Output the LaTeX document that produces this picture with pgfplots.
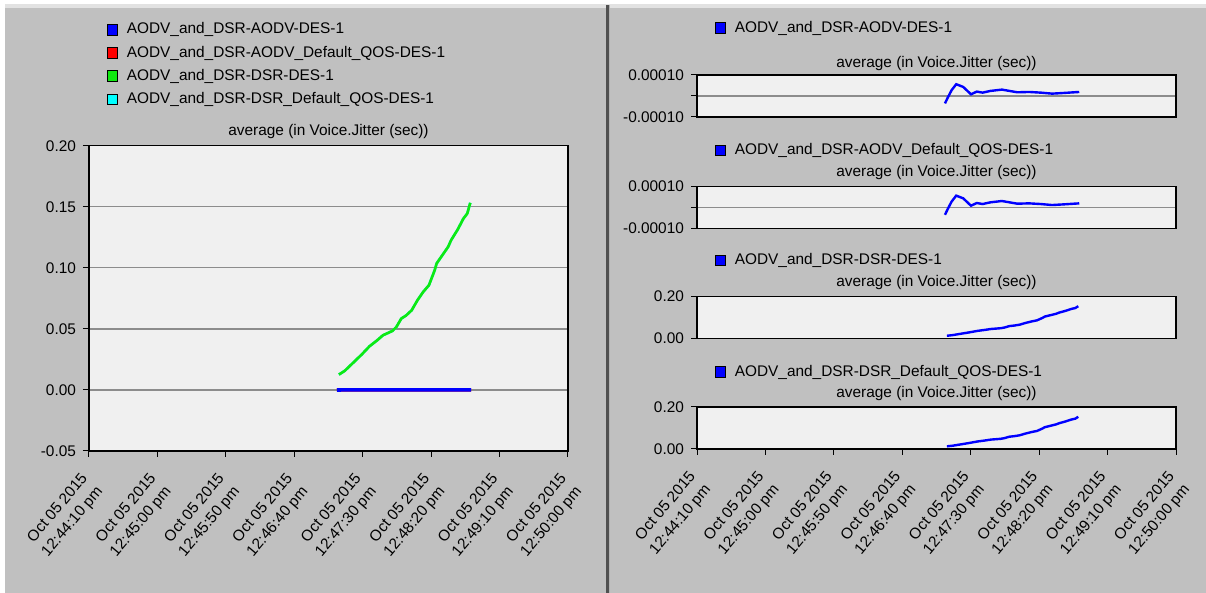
\documentclass[border=0pt]{standalone}
\usepackage{fontspec}
\setmainfont{Liberation Sans}
\usepackage{pgfplots}
\usepackage{pgfplotstable}
\pgfplotsset{compat=1.18}
\definecolor{panelgray}{HTML}{C0C0C0}
\definecolor{plotbg}{HTML}{F0F0F0}
\definecolor{stripgray}{HTML}{E2E2E2}
\definecolor{divgray}{HTML}{505050}
\definecolor{gridgray}{HTML}{8C8C8C}
\definecolor{oblue}{HTML}{0000FF}
\definecolor{ored}{HTML}{FF0000}
\definecolor{ogreen}{HTML}{10E810}
\definecolor{ocyan}{HTML}{00FFFF}

\pgfplotstableread{
t v
181.2 -0.0000352
183.2 -0.0000080
186.0 0.0000272
189.4 0.0000560
194.5 0.0000432
200.2 0.0000080
204.4 0.0000208
208.7 0.0000160
214.3 0.0000240
222.8 0.0000304
228.4 0.0000240
234.1 0.0000176
242.6 0.0000192
251.1 0.0000160
259.5 0.0000112
268.0 0.0000144
279.3 0.0000192
}\aodv

\pgfplotstableread{
t v
182.6 0.0126
186.8 0.0156
192.4 0.0216
199.4 0.0292
205.0 0.0358
210.6 0.0407
214.8 0.0448
221.8 0.0484
224.6 0.0516
228.2 0.0585
231.6 0.0609
235.8 0.0653
240.0 0.0735
244.2 0.0803
248.4 0.0858
252.6 0.0981
254.0 0.1036
258.2 0.1104
262.4 0.1172
264.6 0.1227
269.4 0.1314
273.6 0.1404
276.4 0.1445
278.6 0.1533
}\dsr

\newcommand\sq[1]{\filldraw[fill=#1,draw=black,line width=0.5pt] (0pt,-2.7pt) rectangle (5pt,2.7pt);}
\newcommand\fnt{\fontsize{7.7}{10}\selectfont}

\pgfplotsset{
  opnet/.style={
    scale only axis, width=239.5pt,
    axis background/.style={fill=plotbg},
    axis line style={black, line width=0.7pt},
    tick style={black, line width=0.5pt},
    tick align=outside, major tick length=3pt,
    xtick pos=bottom, ytick pos=left,
    xmin=0, xmax=350,
    scaled y ticks=false,
    ticklabel style={font=\fnt},
    every axis title shift=0pt,
    title style={font=\fnt, at={(0.5,1)}, anchor=center},
    legend style={font=\fnt, draw=none, fill=none, inner sep=0pt,
      nodes={inner sep=0pt}, /tikz/column sep=4.5pt, cells={anchor=west}},
    grid style={gridgray, line width=0.6pt},
    ymajorgrids,
    title={average (in Voice.Jitter (sec))},
  },
  timeticks/.style={
    xtick={0,50,...,350},
    xticklabels={{Oct 05 2015\\12:44:10 pm},{Oct 05 2015\\12:45:00 pm},{Oct 05 2015\\12:45:50 pm},{Oct 05 2015\\12:46:40 pm},{Oct 05 2015\\12:47:30 pm},{Oct 05 2015\\12:48:20 pm},{Oct 05 2015\\12:49:10 pm},{Oct 05 2015\\12:50:00 pm}},
    xticklabel style={rotate=50, anchor=north east, align=right, inner sep=1pt, xshift=-7.5pt},
  },
  smallaodv/.style={
    opnet, height=21pt, xtick=\empty,
    ymin=-0.0001, ymax=0.0001, ytick={-0.0001,0,0.0001},
    yticklabels={-0.00010,,0.00010},
  },
  smalldsr/.style={
    opnet, height=21pt,
    ymin=0, ymax=0.2, ytick={0,0.2}, yticklabels={0.00,0.20},
  },
}

\begin{document}
\begin{tikzpicture}[x=1pt,y=1pt]
\useasboundingbox (0,0) rectangle (603,296.5);
\fill[white] (0,0) rectangle (603,296.5);
\fill[panelgray] (2.5,0) rectangle (603,292.5);
\fill[stripgray] (2.5,292.5) rectangle (603,294.5);
\fill[divgray] (303.2,0) rectangle (304.6,294);
\fill[gray!60] (304.6,0) rectangle (305.1,294);

% left panel
\begin{axis}[opnet, timeticks, at={(44.5pt,71pt)}, anchor=south west,
  height=152.6pt,
  ymin=-0.05, ymax=0.2, ytick={-0.05,0,0.05,0.1,0.15,0.2},
  yticklabels={-0.05,0.00,0.05,0.10,0.15,0.20},
  title style={yshift=7.2pt},
  reverse legend,
  legend style={at={(0,1)}, anchor=north west, xshift=8.7pt, yshift=61.8pt, /tikz/row sep=4.55pt},
]
\addplot[ocyan, line width=1.3pt, legend image code/.code={\sq{ocyan}}] table[x=t,y=v]{\dsr};
\addlegendentry{AODV\_and\_DSR-DSR\_Default\_QOS-DES-1}
\addplot[ogreen, line width=1.3pt, legend image code/.code={\sq{ogreen}}] table[x=t,y=v]{\dsr};
\addlegendentry{AODV\_and\_DSR-DSR-DES-1}
\addplot[ored, line width=1.8pt, legend image code/.code={\sq{ored}}] table[x=t,y=v]{\aodv};
\addlegendentry{AODV\_and\_DSR-AODV\_Default\_QOS-DES-1}
\addplot[oblue, line width=1.8pt, legend image code/.code={\sq{oblue}}] table[x=t,y=v]{\aodv};
\addlegendentry{AODV\_and\_DSR-AODV-DES-1}
\end{axis}

% right panel
\begin{axis}[smallaodv, at={(348.5pt,238pt)}, anchor=south west,
  title style={yshift=5.8pt},
  legend style={at={(0,1)}, anchor=west, xshift=8.7pt, yshift=23.5pt}]
\addplot[oblue, line width=1.2pt, legend image code/.code={\sq{oblue}}] table[x=t,y=v]{\aodv};
\addlegendentry{AODV\_and\_DSR-AODV-DES-1}
\end{axis}

\begin{axis}[smallaodv, at={(348.5pt,182.3pt)}, anchor=south west,
  title style={yshift=7pt},
  legend style={at={(0,1)}, anchor=west, xshift=8.7pt, yshift=17.9pt}]
\addplot[oblue, line width=1.2pt, legend image code/.code={\sq{oblue}}] table[x=t,y=v]{\aodv};
\addlegendentry{AODV\_and\_DSR-AODV\_Default\_QOS-DES-1}
\end{axis}

\begin{axis}[smalldsr, xtick=\empty, at={(348.5pt,127.3pt)}, anchor=south west,
  title style={yshift=6.8pt},
  legend style={at={(0,1)}, anchor=west, xshift=8.7pt, yshift=17.9pt}]
\addplot[oblue, line width=1.2pt, legend image code/.code={\sq{oblue}}] table[x=t,y=v]{\dsr};
\addlegendentry{AODV\_and\_DSR-DSR-DES-1}
\end{axis}

\begin{axis}[smalldsr, timeticks, at={(348.5pt,72pt)}, anchor=south west,
  title style={yshift=6.5pt},
  legend style={at={(0,1)}, anchor=west, xshift=8.7pt, yshift=17.5pt}]
\addplot[oblue, line width=1.2pt, legend image code/.code={\sq{oblue}}] table[x=t,y=v]{\dsr};
\addlegendentry{AODV\_and\_DSR-DSR\_Default\_QOS-DES-1}
\end{axis}
\end{tikzpicture}
\end{document}
